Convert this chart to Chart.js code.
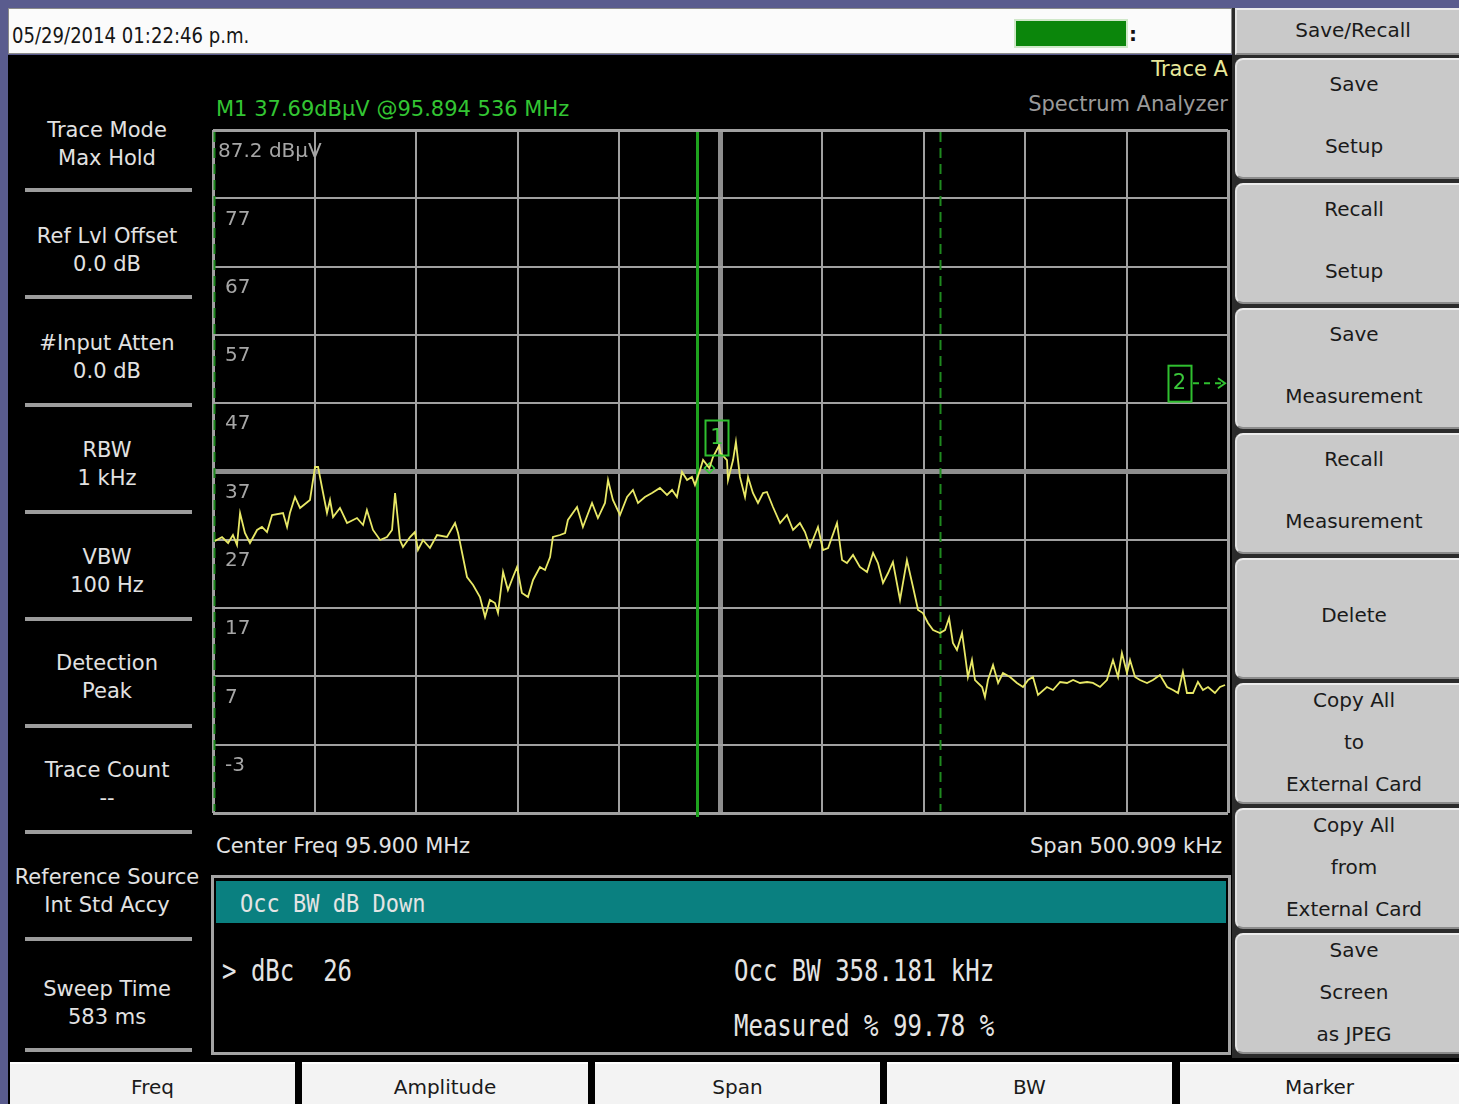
<!DOCTYPE html>
<html>
<head>
<meta charset="utf-8">
<title>Spectrum Analyzer - Occupied Bandwidth</title>
<script src="https://cdn.jsdelivr.net/npm/chart.js"></script>
<style>
  html, body { margin: 0; padding: 0; }
  body {
    width: 1459px; height: 1104px; position: relative; overflow: hidden;
    background: #5a5c8e; font-family: "DejaVu Sans", sans-serif;
  }
  .box { position: absolute; box-sizing: border-box; }
  .t { position: absolute; white-space: pre; line-height: 1; }
  #chart { position: absolute; left: 0; top: 0; z-index: 5; pointer-events: none; }
  .key {
    position: absolute; box-sizing: border-box; background: #c9c9c9;
    border-top: 2px solid #ececec; border-left: 2px solid #e2e2e2;
    border-bottom: 2px solid #8c8c8c; border-radius: 8px 0 0 8px;
  }
  .bkey { position: absolute; box-sizing: border-box; background: #f3f3f3; border-top: 2px solid #fff; }
</style>
</head>
<body>
<canvas id="chart" width="1459" height="1104"></canvas>
<script>
// ---- Instrument readout ----
const centerFreqMHz = 95.9;
const spanMHz = 0.500909;
const refLevel = 87.2;          // dBuV, top of screen
const dbPerDiv = 10;
const divisions = 10;
const yTickLabels = ["87.2 dB\u00b5V", "77", "67", "57", "47", "37", "27", "17", "7", "-3"];

// Max-hold trace: frequency (MHz) and level (dBuV)
const traceFreq = [
  95.6505, 95.6540, 95.6570, 95.6594, 95.6614, 95.6629, 95.6653, 95.6678, 95.6713, 95.6737,
  95.6762, 95.6787, 95.6841, 95.6861, 95.6875, 95.6900, 95.6925, 95.6974, 95.6999, 95.7014,
  95.7033, 95.7058, 95.7073, 95.7088, 95.7122, 95.7157, 95.7206, 95.7236, 95.7255, 95.7285,
  95.7320, 95.7354, 95.7379, 95.7394, 95.7408, 95.7418, 95.7433, 95.7468, 95.7492, 95.7507,
  95.7532, 95.7566, 95.7601, 95.7650, 95.7690, 95.7705, 95.7729, 95.7749, 95.7779, 95.7813,
  95.7838, 95.7862, 95.7887, 95.7902, 95.7927, 95.7951, 95.7976, 95.7996, 95.8020, 95.8050,
  95.8075, 95.8109, 95.8134, 95.8159, 95.8173, 95.8208, 95.8233, 95.8247, 95.8292, 95.8321,
  95.8366, 95.8395, 95.8430, 95.8445, 95.8469, 95.8504, 95.8539, 95.8568, 95.8593, 95.8627,
  95.8662, 95.8701, 95.8736, 95.8761, 95.8785, 95.8810, 95.8835, 95.8859, 95.8874, 95.8899,
  95.8914, 95.8945, 95.8963, 95.8993, 95.9000, 95.9032, 95.9037, 95.9062, 95.9076, 95.9096,
  95.9121, 95.9136, 95.9160, 95.9185, 95.9210, 95.9229, 95.9259, 95.9294, 95.9328, 95.9358,
  95.9392, 95.9417, 95.9442, 95.9481, 95.9506, 95.9531, 95.9575, 95.9600, 95.9624, 95.9654,
  95.9688, 95.9723, 95.9753, 95.9777, 95.9802, 95.9827, 95.9851, 95.9886, 95.9920, 95.9950,
  95.9975, 95.9999, 96.0024, 96.0049, 96.0083, 96.0108, 96.0128, 96.0147, 96.0167, 96.0192,
  96.0207, 96.0221, 96.0241, 96.0256, 96.0291, 96.0305, 96.0320, 96.0345, 96.0370, 96.0394,
  96.0429, 96.0463, 96.0493, 96.0518, 96.0542, 96.0567, 96.0611, 96.0641, 96.0676, 96.0710,
  96.0740, 96.0774, 96.0809, 96.0838, 96.0873, 96.0907, 96.0937, 96.0962, 96.0981, 96.1006,
  96.1021, 96.1046, 96.1070, 96.1105, 96.1134, 96.1169, 96.1204, 96.1233, 96.1258, 96.1282,
  96.1302, 96.1332, 96.1356, 96.1381, 96.1406, 96.1440, 96.1465, 96.1490
];
const traceLevel = [
  27.03, 27.61, 26.73, 27.90, 26.44, 31.12, 28.20, 26.73, 28.64, 29.08,
  28.34, 30.83, 31.12, 29.08, 31.12, 33.47, 31.86, 33.03, 37.86, 37.86,
  34.93, 31.12, 33.03, 30.54, 31.86, 29.66, 30.39, 29.37, 31.56, 28.64,
  27.17, 27.61, 28.64, 34.05, 30.10, 27.17, 26.15, 27.61, 28.34, 25.71,
  27.17, 26.00, 27.90, 27.61, 29.66, 28.20, 24.68, 21.75, 20.58, 18.83,
  15.90, 18.39, 17.95, 16.48, 22.49, 19.85, 21.75, 23.22, 19.41, 18.83,
  21.32, 23.22, 22.78, 24.68, 27.61, 27.90, 28.20, 30.10, 32.00, 29.08,
  32.59, 30.39, 32.59, 35.96, 33.03, 30.83, 33.47, 34.49, 32.59, 33.47,
  34.05, 34.79, 33.76, 34.49, 33.47, 37.13, 35.96, 36.40, 35.22, 37.42,
  38.88, 37.69, 39.32, 41.00, 39.91, 38.88, 35.96, 38.88, 41.52, 36.40,
  33.47, 36.40, 34.05, 32.59, 34.05, 34.20, 32.00, 29.66, 30.83, 28.64,
  29.66, 28.34, 26.15, 29.08, 25.71, 26.00, 29.66, 24.24, 23.80, 24.98,
  23.22, 22.49, 25.27, 23.80, 20.88, 22.34, 23.95, 18.39, 24.24, 20.29,
  16.92, 16.48, 15.02, 13.99, 13.56, 13.99, 15.75, 12.09, 11.07, 13.56,
  10.33, 7.11, 9.60, 6.67, 5.65, 4.19, 6.67, 8.87, 6.24, 7.70,
  7.11, 6.24, 5.65, 6.67, 7.11, 4.48, 5.65, 5.21, 6.38, 6.24,
  6.67, 6.24, 6.38, 6.24, 5.65, 6.67, 9.60, 7.11, 10.63, 7.70,
  9.60, 7.11, 6.67, 6.24, 6.67, 7.41, 5.65, 5.21, 4.77, 7.85,
  4.77, 4.77, 6.38, 5.21, 5.65, 4.77, 5.65, 5.94
];

// Marker 1 and occupied-bandwidth edges
const marker1 = { freq: 95.894536, level: 37.69 };
const occBwMHz = 0.358181;
const occLowMHz = 95.6500;
const occHighMHz = occLowMHz + occBwMHz;
const cursorFreqMHz = 95.8884;

// Side panels
const leftPanel = [
  ["Trace Mode", "Max Hold"], ["Ref Lvl Offset", "0.0 dB"], ["#Input Atten", "0.0 dB"],
  ["RBW", "1 kHz"], ["VBW", "100 Hz"], ["Detection", "Peak"], ["Trace Count", "--"],
  ["Reference Source", "Int Std Accy"], ["Sweep Time", "583 ms"]
];
const softKeys = [
  ["Save", "Setup"], ["Recall", "Setup"], ["Save", "Measurement"], ["Recall", "Measurement"],
  ["Delete"], ["Copy All", "to", "External Card"], ["Copy All", "from", "External Card"],
  ["Save", "Screen", "as JPEG"]
];
const bottomKeys = ["Freq", "Amplitude", "Span", "BW", "Marker"];

// ---- Screen chrome (HTML) ----
function el(cls, css, text) {
  const d = document.createElement("div");
  d.className = cls;
  Object.assign(d.style, css);
  if (text !== undefined) d.textContent = text;
  document.body.appendChild(d);
  return d;
}
function txt(text, x, y, css, align) {
  const tr = align === "c" ? "translate(-50%,-50%)" : (align === "r" ? "translate(-100%,-50%)" : "translateY(-50%)");
  return el("t", Object.assign({ left: x + "px", top: y + "px", transform: tr }, css), text);
}

// top status bar
el("box", { left: "8px", top: "8px", width: "1224px", height: "46px", background: "#fbfbfb", border: "1px solid #8a8a8a" });
const dateLine = txt("05/29/2014 01:22:46 p.m.", 12, 36, { fontSize: "21px", color: "#151515", transformOrigin: "left center" });
dateLine.style.transform = "translateY(-50%) scaleX(0.86)";
el("box", { left: "1014px", top: "19px", width: "114px", height: "29px", background: "#0b860b", border: "2px solid #cfe8c8" });
txt(":", 1129, 34, { fontSize: "20px", color: "#111", fontWeight: "bold" });

// main black area
el("box", { left: "8px", top: "55px", width: "1226px", height: "1005px", background: "#000" });
el("box", { left: "1232px", top: "8px", width: "227px", height: "1052px", background: "#2b2b2b" });
el("box", { left: "8px", top: "1058px", width: "1451px", height: "46px", background: "#000" });

// left settings panel
const leftRowY = [130, 236, 343, 450, 557, 663, 770, 877, 989];
const leftSepY = [190, 297, 405, 512, 619, 726, 832, 939, 1050];
leftPanel.forEach((rows, i) => {
  txt(rows[0], 107, leftRowY[i], { fontSize: "21px", color: "#e2e2e2" }, "c");
  txt(rows[1], 107, leftRowY[i] + 28, { fontSize: "21px", color: "#e2e2e2" }, "c");
  el("box", { left: "25px", top: (leftSepY[i] - 2) + "px", width: "167px", height: "4px", background: "#9c9c9c" });
});

// trace header & marker readout
txt("Trace A", 1228, 69, { fontSize: "21px", color: "#e8e89a" }, "r");
txt("Spectrum Analyzer", 1228, 104, { fontSize: "21px", color: "#9a9a9a" }, "r");
txt("M1 37.69dB\u00b5V @95.894 536 MHz", 216, 109, { fontSize: "21px", color: "#33c533" });

// below the graticule
txt("Center Freq 95.900 MHz", 216, 846, { fontSize: "21px", color: "#e2e2e2" });
txt("Span 500.909 kHz", 1222, 846, { fontSize: "21px", color: "#e2e2e2" }, "r");

// measurement box
el("box", { left: "211px", top: "875px", width: "1020px", height: "180px", border: "3px solid #a4a4a4", background: "#000" });
el("box", { left: "216px", top: "881px", width: "1010px", height: "42px", background: "#0a8080" });
function monoTxt(text, x, y, size, sy) {
  const d = txt(text, x, y, { fontSize: size + "px", color: "#e4e4e4", fontFamily: "\"DejaVu Sans Mono\", monospace" });
  d.style.transformOrigin = "left center";
  d.style.transform = "translateY(-50%) scaleY(" + sy + ")";
}
monoTxt("Occ BW dB Down", 240, 904, 22, 1.15);
monoTxt("> dBc  26", 222, 971, 24, 1.25);
monoTxt("Occ BW 358.181 kHz", 734, 971, 24, 1.25);
monoTxt("Measured % 99.78 %", 734, 1026, 24, 1.25);

// soft keys
el("key", { left: "1235px", top: "8px", width: "224px", height: "47px", borderRadius: "0" });
txt("Save/Recall", 1353, 30, { fontSize: "20px", color: "#1a1a1a" }, "c");
const keyTops = [58, 183, 308, 433, 558, 683, 808, 933];
softKeys.forEach((lines, i) => {
  const top = keyTops[i];
  el("key", { left: "1235px", top: top + "px", width: "224px", height: "121px" });
  let offs;
  if (lines.length === 1) offs = [57];
  else if (lines.length === 2) offs = [26, 88];
  else offs = [17, 59, 101];
  lines.forEach((s, j) => txt(s, 1354, top + offs[j], { fontSize: "20px", color: "#1a1a1a" }, "c"));
});

// bottom menu keys
const bottomX = [[10, 295], [302, 588], [595, 880], [887, 1172], [1180, 1459]];
bottomKeys.forEach((s, i) => {
  const [a, b] = bottomX[i];
  el("bkey", { left: a + "px", top: "1062px", width: (b - a) + "px", height: "42px" });
  txt(s, (a + b) / 2, 1087, { fontSize: "20px", color: "#1a1a1a" }, "c");
});

// ---- Graticule and trace (Chart.js) ----
const xMin = centerFreqMHz - spanMHz / 2;
const xMax = centerFreqMHz + spanMHz / 2;
const yMax = refLevel;
const yMin = refLevel - dbPerDiv * divisions;

function gridWidth(ctx) {
  if (ctx.index === divisions / 2) return 5;
  if (ctx.index === 0 || ctx.index === divisions) return 3;
  return 2;
}
function gridColor(ctx) {
  return ctx.index === divisions / 2 ? "#8e8e8e" : "#a0a0a0";
}

const screenOverlay = {
  id: "screenOverlay",
  beforeDatasetsDraw(chart) {
    const { ctx, chartArea: a, scales: { x } } = chart;
    ctx.save();
    // occupied bandwidth edges
    ctx.strokeStyle = "#1f8a1f";
    ctx.lineWidth = 2;
    ctx.setLineDash([10, 6]);
    [occLowMHz, occHighMHz].forEach(f => {
      const px = Math.round(x.getPixelForValue(f)) + 0.5;
      ctx.beginPath(); ctx.moveTo(px, a.top + 2); ctx.lineTo(px, a.bottom - 2); ctx.stroke();
    });
    // cursor line
    ctx.setLineDash([]);
    ctx.strokeStyle = "#1ea21e";
    ctx.lineWidth = 3;
    const cx = Math.round(x.getPixelForValue(cursorFreqMHz)) + 0.5;
    ctx.beginPath(); ctx.moveTo(cx, a.top + 2); ctx.lineTo(cx, a.bottom + 4); ctx.stroke();
    ctx.restore();
  },
  afterDatasetsDraw(chart) {
    const { ctx, chartArea: a, scales: { x, y } } = chart;
    ctx.save();
    // amplitude labels inside the graticule
    ctx.font = '20px "DejaVu Sans"';
    ctx.fillStyle = "#a6a6a6";
    ctx.textBaseline = "middle";
    yTickLabels.forEach((s, i) => {
      const py = y.getPixelForValue(refLevel - i * dbPerDiv);
      if (i === 0) ctx.fillText(s, a.left + 5, py + 22);
      else ctx.fillText(s, a.left + 12, py + 21);
    });
    // marker 1 flag
    const mx = x.getPixelForValue(marker1.freq);
    const my = y.getPixelForValue(marker1.level);
    ctx.strokeStyle = "#2fbf2f";
    ctx.lineWidth = 2;
    ctx.strokeRect(Math.round(mx - 4) + 0.5, Math.round(my - 48) + 0.5, 23, 35);
    ctx.fillStyle = "#3ac83a";
    ctx.textAlign = "center";
    ctx.font = '21px "DejaVu Sans"';
    ctx.fillText("1", mx + 7.5, my - 30);
    // marker 2 off-screen indicator
    const b2 = y.getPixelForValue(47.2) - 2;
    const l2 = a.right - 60;
    ctx.strokeRect(l2 + 0.5, b2 - 36 + 0.5, 23, 36);
    ctx.fillText("2", l2 + 11.5, b2 - 18);
    ctx.setLineDash([6, 5]);
    ctx.beginPath(); ctx.moveTo(l2 + 25, b2 - 18); ctx.lineTo(a.right - 6, b2 - 18); ctx.stroke();
    ctx.setLineDash([]);
    ctx.beginPath();
    ctx.moveTo(a.right - 10, b2 - 23); ctx.lineTo(a.right - 3, b2 - 18); ctx.lineTo(a.right - 10, b2 - 13);
    ctx.stroke();
    ctx.restore();
  }
};

function evenTicks(scale) {
  const ticks = [];
  for (let i = 0; i <= divisions; i++) ticks.push({ value: scale.min + (scale.max - scale.min) * i / divisions });
  scale.ticks = ticks;
}

new Chart(document.getElementById("chart"), {
  type: "line",
  data: {
    datasets: [
      {
        label: "Trace A",
        data: traceFreq.map((f, i) => ({ x: f, y: traceLevel[i] })),
        borderColor: "#e8e866",
        borderWidth: 1.8,
        pointRadius: 0,
        tension: 0,
        fill: false
      },
      {
        label: "M1",
        data: [{ x: marker1.freq, y: marker1.level }],
        borderColor: "#3acb3a",
        backgroundColor: "rgba(0,0,0,0)",
        pointStyle: "rectRot",
        pointRadius: 5,
        pointBorderWidth: 1.5,
        showLine: false
      }
    ]
  },
  options: {
    responsive: false,
    animation: false,
    devicePixelRatio: 1,
    layout: { padding: { left: 213, top: 130, right: 231, bottom: 291 } },
    plugins: { legend: { display: false }, tooltip: { enabled: false } },
    scales: {
      x: {
        type: "linear", min: xMin, max: xMax,
        afterBuildTicks: evenTicks,
        ticks: { display: false },
        border: { display: false },
        grid: { color: gridColor, lineWidth: gridWidth, drawTicks: false }
      },
      y: {
        type: "linear", min: yMin, max: yMax,
        afterBuildTicks: evenTicks,
        ticks: { display: false },
        border: { display: false },
        grid: { color: gridColor, lineWidth: gridWidth, drawTicks: false }
      }
    }
  },
  plugins: [screenOverlay]
});
</script>
</body>
</html>
